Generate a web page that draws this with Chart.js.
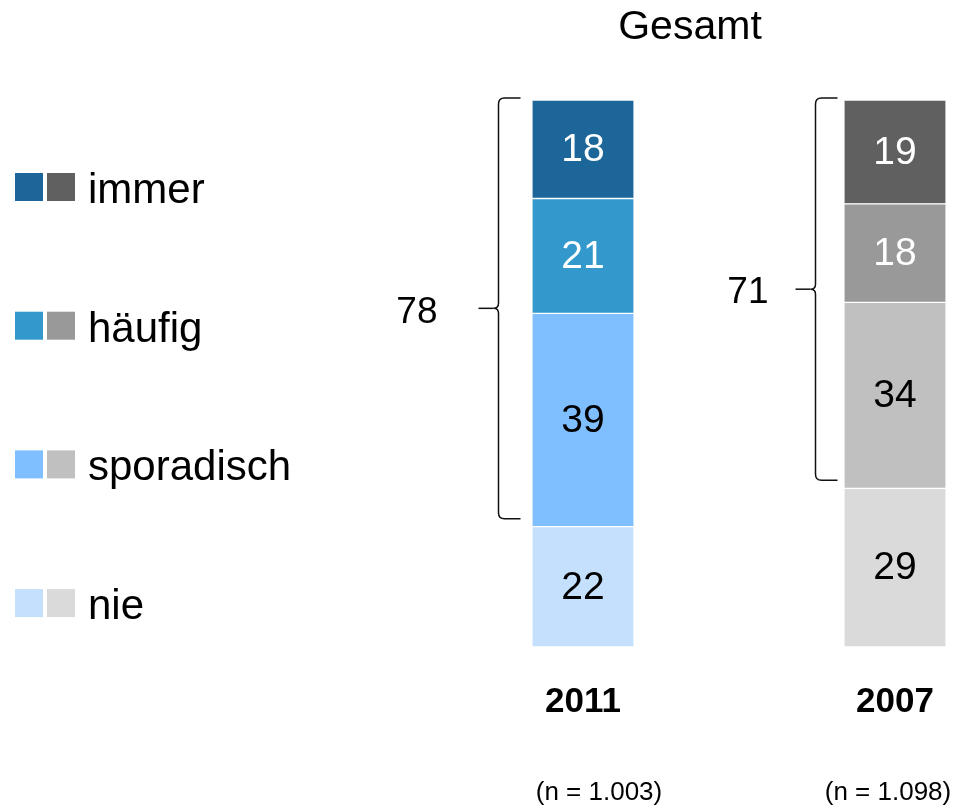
<!DOCTYPE html>
<html>
<head>
<meta charset="utf-8">
<script src="https://cdn.jsdelivr.net/npm/chart.js@4"></script>
<style>
  body { margin: 0; background: #fff; }
  #wrap { width: 957px; height: 811px; }
</style>
</head>
<body>
<div id="wrap"><canvas id="mychart" width="957" height="811"></canvas></div>
<script>
// values (percent)
var years = ['2011', '2007'];
var sampleSizes = ['(n = 1.003)', '(n = 1.098)'];
var categories = ['immer', 'häufig', 'sporadisch', 'nie'];
var immer = [18, 19];
var haeufig = [21, 18];
var sporadisch = [39, 34];
var nie = [22, 29];
var chartTitle = 'Gesamt';

var blues = ['#1c6699', '#3399cc', '#80bfff', '#c4e0fc'];
var greys = ['#606060', '#999999', '#c0c0c0', '#dadada'];
var valueColors = ['#fff', '#fff', '#000', '#000'];

var FONT = "'Liberation Sans', Arial, sans-serif";

// stacked bottom -> top
var series = [nie, sporadisch, haeufig, immer];
var seriesIdx = [3, 2, 1, 0]; // index into categories / colours

var datasets = series.map(function (vals, k) {
    var c = seriesIdx[k];
    return {
        label: categories[c],
        data: vals,
        backgroundColor: [blues[c], greys[c]],
        borderColor: '#fff',
        borderWidth: {top: 1, bottom: 1, left: 0, right: 0},
        borderSkipped: false,
        barThickness: 101,
        clip: false
    };
});

var extras = {
    id: 'extras',
    afterDatasetsDraw: function (chart) {
        var ctx = chart.ctx;
        var yScale = chart.scales.y;
        ctx.save();

        // values inside the segments
        ctx.textAlign = 'center';
        ctx.textBaseline = 'middle';
        ctx.font = '39px ' + FONT;
        chart.data.datasets.forEach(function (ds, k) {
            var meta = chart.getDatasetMeta(k);
            meta.data.forEach(function (el, i) {
                ctx.fillStyle = valueColors[seriesIdx[k]];
                ctx.fillText(String(ds.data[i]), el.x, (el.y + el.base) / 2 + 1);
            });
        });

        // brackets with the sum of immer + häufig + sporadisch
        var bracketGap = [34, 29];
        var labelGap = [41, 27];
        var nOff = [16, -7];
        var topMeta = chart.getDatasetMeta(3);
        years.forEach(function (yr, i) {
            var el = topMeta.data[i];
            var bx = el.x - el.width / 2 - bracketGap[i];
            var total = immer[i] + haeufig[i] + sporadisch[i] + nie[i];
            var yTop = yScale.getPixelForValue(total) - 2;
            var yBot = yScale.getPixelForValue(nie[i]) - 8;
            var mid = (yTop + yBot) / 2;
            ctx.strokeStyle = '#111';
            ctx.lineWidth = 1.5;
            ctx.beginPath();
            ctx.moveTo(bx + 22, yTop);
            ctx.lineTo(bx + 6, yTop);
            ctx.quadraticCurveTo(bx, yTop, bx, yTop + 6);
            ctx.lineTo(bx, mid - 5);
            ctx.quadraticCurveTo(bx, mid, bx - 5, mid);
            ctx.quadraticCurveTo(bx, mid, bx, mid + 5);
            ctx.lineTo(bx, yBot - 6);
            ctx.quadraticCurveTo(bx, yBot, bx + 6, yBot);
            ctx.lineTo(bx + 22, yBot);
            ctx.stroke();
            ctx.beginPath();
            ctx.moveTo(bx - 20, mid);
            ctx.lineTo(bx - 5, mid);
            ctx.stroke();

            ctx.fillStyle = '#000';
            ctx.font = '37px ' + FONT;
            ctx.textAlign = 'right';
            ctx.textBaseline = 'middle';
            ctx.fillText(String(immer[i] + haeufig[i] + sporadisch[i]), bx - 20 - labelGap[i], mid + 4);

            // sample size under each bar
            ctx.font = '26px ' + FONT;
            ctx.textAlign = 'center';
            ctx.textBaseline = 'alphabetic';
            ctx.fillText(sampleSizes[i], el.x + nOff[i], 800);
        });

        // title
        ctx.font = '41px ' + FONT;
        ctx.textAlign = 'center';
        ctx.textBaseline = 'middle';
        ctx.fillStyle = '#000';
        ctx.fillText(chartTitle, 690, 28);

        // legend: two swatches per category
        var lx = 15, ly = 173, step = 138.7, sq = 28;
        categories.forEach(function (cat, c) {
            var y0 = ly + c * step;
            ctx.fillStyle = blues[c];
            ctx.fillRect(lx, y0, sq, sq);
            ctx.fillStyle = greys[c];
            ctx.fillRect(lx + 32, y0, sq, sq);
            ctx.fillStyle = '#000';
            ctx.font = '42px ' + FONT;
            ctx.textAlign = 'left';
            ctx.textBaseline = 'alphabetic';
            ctx.fillText(cat, 88, y0 + 30);
        });
        ctx.restore();
    }
};

var chart = new Chart(document.getElementById('mychart'), {
    type: 'bar',
    data: {labels: years, datasets: datasets},
    options: {
        responsive: false,
        animation: false,
        layout: {padding: {left: 583, right: 62, top: 100, bottom: 64}},
        plugins: {legend: {display: false}, tooltip: {enabled: false}, title: {display: false}},
        scales: {
            x: {
                type: 'category',
                stacked: true,
                offset: false,
                grid: {display: false, drawTicks: false},
                border: {display: false},
                ticks: {
                    color: '#000',
                    font: {family: FONT, size: 35, weight: 'bold'},
                    padding: 34,
                    maxRotation: 0,
                    autoSkip: false
                },
                afterFit: function (s) {
                    s.height = 100;
                    s.paddingLeft = 0;
                    s.paddingRight = 0;
                }
            },
            y: {stacked: true, min: 0, max: 100, display: false}
        }
    },
    plugins: [extras]
});
</script>
</body>
</html>
